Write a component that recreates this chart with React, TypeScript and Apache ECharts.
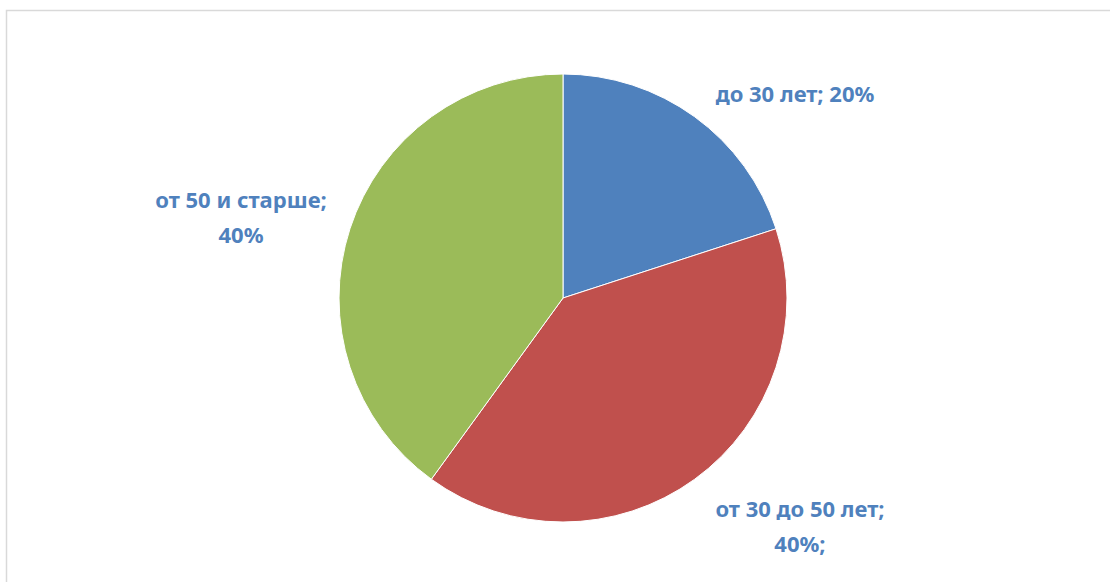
import React, { useEffect, useRef } from "react";
import * as echarts from "echarts";

const categories = ["до 30 лет", "от 30 до 50 лет", "от 50 и старше"];
const values = [20, 40, 40];
const labelTexts = ["до 30 лет; 20%", "от 30 до 50 лет;\n40%;", "от 50 и старше;\n40%"];
const colors = ["#4F81BD", "#C0504D", "#9BBB59"];

export default function App() {
  const ref = useRef<HTMLDivElement>(null);
  useEffect(() => {
    if (!ref.current) return;
    const chart = echarts.init(ref.current, null, { renderer: "svg" });
    const labelPos = [
      { x: 795, y: 93 },
      { x: 800, y: 525 },
      { x: 241, y: 216 },
    ];
    chart.setOption({
      animation: false,
      backgroundColor: "#ffffff",
      graphic: [
        {
          type: "rect",
          shape: { x: 6.5, y: 10.5, width: 1200, height: 700 },
          style: { fill: "none", stroke: "#d9d9d9", lineWidth: 1.5 },
          silent: true,
        },
      ],
      series: [
        {
          type: "pie",
          center: [563, 298],
          radius: 224,
          startAngle: 90,
          clockwise: true,
          data: categories.map((c, i) => ({
            name: c,
            value: values[i],
            itemStyle: { color: colors[i] },
          })),
          itemStyle: { borderColor: "#ffffff", borderWidth: 1 },
          label: {
            show: true,
            position: "outside",
            formatter: (p: any) => labelTexts[p.dataIndex],
            color: "#4F81BD",
            fontFamily: "Noto Sans",
            fontWeight: "bold",
            fontSize: 22,
            lineHeight: 35,
            align: "center",
          },
          labelLine: { show: false },
          labelLayout: (params: any) => ({
            x: labelPos[params.dataIndex].x,
            y: labelPos[params.dataIndex].y,
            align: "center",
            verticalAlign: "middle",
          }),
          emphasis: { disabled: true },
        },
      ],
    });
    return () => chart.dispose();
  }, []);
  return (
    <div
      ref={ref}
      style={{ position: "fixed", left: 0, top: 0, width: 1110, height: 582 }}
    />
  );
}
